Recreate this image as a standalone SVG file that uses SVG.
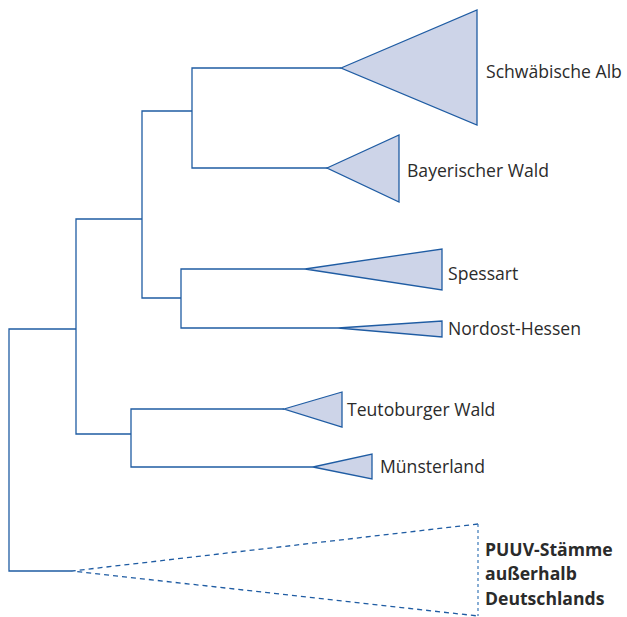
<svg xmlns="http://www.w3.org/2000/svg" width="627" height="617" viewBox="0 0 627 617">
<style>
.br{fill:none;stroke:#1f5ca3;stroke-width:1.3}
.tri{fill:#cdd4e8;stroke:#1f5ca3;stroke-width:1.3;stroke-linejoin:miter}
.dash{fill:none;stroke:#1f5ca3;stroke-width:1.3;stroke-dasharray:5 4}
.dot{fill:none;stroke:#3a78b8;stroke-width:1.2;stroke-dasharray:3 3}
.lbl{font-family:"Open Sans","Liberation Sans",sans-serif;font-size:17.6px;fill:#2b2b2b}
.bold{font-weight:bold}
</style>
<rect width="627" height="617" fill="#fff"/>
<g id="connectors">
<polyline class="br" points="341,68 192,68 192,168 328,168"/>
<polyline class="br" points="192,111 142,111 142,298 181,298"/>
<polyline class="br" points="305,269 181,269 181,328 338,328"/>
<polyline class="br" points="142,219 76,219 76,434 131,434"/>
<polyline class="br" points="284,409 131,409 131,467 313,467"/>
<polyline class="br" points="76,329 9,329 9,571 72,571"/>
</g>
<g id="schwaebische-alb">
<polygon class="tri" points="341,68 477,10 477,125"/>
<text class="lbl" x="486" y="78">Schwäbische Alb</text>
</g>
<g id="bayerischer-wald">
<polygon class="tri" points="327,168 399,135 399,202"/>
<text class="lbl" x="407" y="177">Bayerischer Wald</text>
</g>
<g id="spessart">
<polygon class="tri" points="305,269 442,249 442,290"/>
<text class="lbl" x="448" y="280">Spessart</text>
</g>
<g id="nordost-hessen">
<polygon class="tri" points="338,328 442,321 442,337"/>
<text class="lbl" x="448" y="335">Nordost-Hessen</text>
</g>
<g id="teutoburger-wald">
<polygon class="tri" points="284,409 342,392 342,427"/>
<text class="lbl" x="347" y="416">Teutoburger Wald</text>
</g>
<g id="muensterland">
<polygon class="tri" points="313,467 372,454 372,479"/>
<text class="lbl" x="380" y="473">Münsterland</text>
</g>
<g id="puuv">
<polyline class="dash" points="478,524 72,571 478,616"/>
<line class="dot" x1="478" y1="524" x2="478" y2="616"/>
<text class="lbl bold" x="485" y="556">PUUV-Stämme</text>
<text class="lbl bold" x="485" y="580">außerhalb</text>
<text class="lbl bold" x="485" y="605">Deutschlands</text>
</g>
</svg>
